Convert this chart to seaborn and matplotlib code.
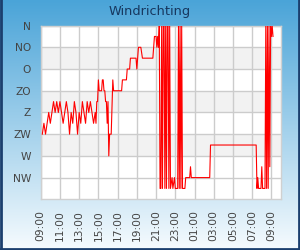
import matplotlib
matplotlib.use('Agg')
import matplotlib.pyplot as plt
import matplotlib.dates as mdates
import numpy as np
import pandas as pd
import seaborn as sns

TITLE = 'Windrichting'
DIRECTION_LABELS = ['N', 'NO', 'O', 'ZO', 'Z', 'ZW', 'W', 'NW']
DIRECTION_DEGREES = [0, 45, 90, 135, 180, 225, 270, 315]

# measurement times (HH:MM, rolls over midnight) and wind direction in degrees
TIMES = [
    '09:10', '09:20', '09:30', '09:40', '09:50', '10:00', '10:10', '10:20', '10:30', '10:40',
    '10:50', '11:00', '11:10', '11:20', '11:30', '11:40', '11:50', '12:00', '12:10', '12:20',
    '12:30', '12:40', '12:50', '13:00', '13:10', '13:20', '13:30', '13:40', '13:50', '14:00',
    '14:10', '14:20', '14:30', '14:40', '14:45', '14:50', '14:55', '15:00', '15:05', '15:20',
    '15:25', '15:30', '15:35', '15:40', '15:45', '15:50', '15:55', '16:00', '16:05', '16:10',
    '16:20', '16:30', '16:35', '17:25', '17:30', '17:55', '18:00', '18:15', '18:20', '18:55',
    '19:00', '19:05', '19:10', '19:25', '19:35', '20:40', '20:50', '21:00', '21:05', '21:10',
    '21:15', '21:20', '21:25', '21:30', '21:35', '21:40', '21:45', '21:50', '21:55', '22:00',
    '22:05', '22:10', '22:15', '22:20', '22:25', '22:30', '22:40', '22:45', '22:55', '23:00',
    '23:15', '23:20', '23:25', '23:30', '23:35', '23:40', '23:45', '00:00', '00:05', '00:30',
    '00:35', '00:40', '02:35', '02:40', '07:25', '07:30', '07:35', '07:40', '07:55', '08:00',
    '08:05', '08:20', '08:25', '08:30', '08:35', '08:40', '08:45', '08:50', '08:55', '09:00',
    '09:05', '09:10',
]
DEGREES = [
    225, 202.5, 225, 202.5, 180, 202.5, 180, 157.5, 180, 157.5,
    180, 157.5, 180, 202.5, 180, 157.5, 180, 225, 180, 202.5,
    157.5, 180, 225, 180, 202.5, 157.5, 180, 202.5, 157.5, 180,
    157.5, 180, 202.5, 180, 202.5, 157.5, 157.5, 112.5, 135, 135,
    112.5, 112.5, 135, 135, 157.5, 157.5, 202.5, 157.5, 270, 225,
    225, 112.5, 135, 135, 112.5, 112.5, 90, 90, 67.5, 67.5,
    90, 67.5, 45, 45, 67.5, 67.5, 22.5, 22.5, 45, 22.5,
    45, 0, 337.5, 337.5, 0, 337.5, 0, 0, 337.5, 0,
    337.5, 0, 0, 337.5, 0, 337.5, 315, 337.5, 315, 337.5,
    337.5, 0, 337.5, 0, 337.5, 0, 337.5, 337.5, 315, 315,
    292.5, 315, 315, 247.5, 247.5, 337.5, 315, 337.5, 337.5, 292.5,
    337.5, 337.5, 0, 337.5, 0, 337.5, 0, 292.5, 0, 22.5,
    0, 22.5,
]

START = '2024-01-01 09:00'
END = '2024-01-02 10:00'


def to_timestamps(times, start):
    day = pd.Timestamp(start).normalize()
    out = []
    for t in times:
        ts = day + pd.Timedelta(t + ':00')
        if out and ts < out[-1]:
            day += pd.Timedelta(days=1)
            ts += pd.Timedelta(days=1)
        out.append(ts)
    return out


df = pd.DataFrame({'tijd': to_timestamps(TIMES, START), 'richting': DEGREES})

fig = plt.figure(figsize=(3.0, 2.5), dpi=100)

# gradient background
bg = fig.add_axes([0, 0, 1, 1], zorder=0)
top = np.array([74, 164, 216]) / 255
bottom = np.array([246, 251, 254]) / 255
frac = np.linspace(0, 1, 256)[:, None]
grad = top[None, :] * (1 - frac) + bottom[None, :] * frac
bg.imshow(grad[:, None, :], aspect='auto', extent=[0, 1, 0, 1])
bg.set_axis_off()
for xs, ys in [([0.003, 0.003], [0, 1]), ([0.997, 0.997], [0, 1]), ([0, 1], [0.004, 0.004])]:
    bg.plot(xs, ys, color='#1b3f6e', linewidth=2, transform=bg.transAxes, clip_on=False)

ax = fig.add_axes([0.1357, 0.2028, 0.801, 0.6948], zorder=1)
ax.set_facecolor('white')
for lo, hi in [(45, 90), (135, 180), (225, 270)]:
    ax.axhspan(lo, hi, color='#f2f2f2', zorder=0, linewidth=0)

sns.lineplot(data=df, x='tijd', y='richting', color='red', linewidth=0.8,
             estimator=None, ax=ax, zorder=3)

ax.set_ylim(360, 0)
ax.set_yticks(DIRECTION_DEGREES)
ax.set_yticklabels(DIRECTION_LABELS)
ax.set_xlim(pd.Timestamp(START), pd.Timestamp(END))
ax.xaxis.set_major_locator(mdates.HourLocator(byhour=range(1, 24, 2)))
ax.xaxis.set_major_formatter(mdates.DateFormatter('%H:%M'))
ax.set_xlabel('')
ax.set_ylabel('')
ax.grid(True, color='#cccccc', linewidth=1)
ax.set_axisbelow(True)
ax.tick_params(axis='both', length=0, colors='#444444', labelsize=7.7)
ax.tick_params(axis='y', pad=7)
ax.tick_params(axis='x', pad=8, labelrotation=90)
for spine in ax.spines.values():
    spine.set_color('#d0d0d0')
    spine.set_linewidth(1)

fig.text(0.5, 1 - 11.5 / 250, TITLE, ha='center', va='center', color='#17375e', fontsize=9.3)

fig.savefig('out.png', dpi=100)
